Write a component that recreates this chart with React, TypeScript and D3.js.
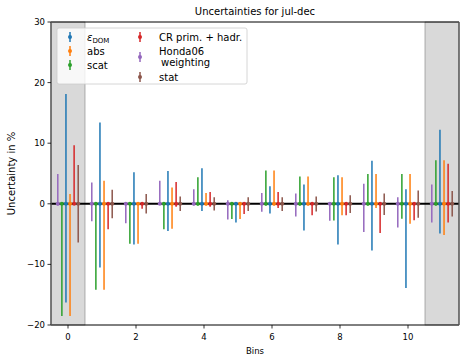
import React from "react";
import * as d3 from "d3";

const bins = [0, 1, 2, 3, 4, 5, 6, 7, 8, 9, 10, 11];
const xTicks = [0, 2, 4, 6, 8, 10];
const yTicks = [-20, -10, 0, 10, 20, 30];
const shadedSpans = [[-0.5, 0.5], [10.5, 11.5]];

const domUp = [18.1, 13.4, 5.2, 5.4, 5.85, 0, 2.9, 3.2, 4.7, 7.1, 2.4, 12.2];
const domLow = [-16.3, -10.5, -6.7, -4.5, -1.2, -3.1, -1.6, -4.4, -6.7, -7.7, -13.9, -4.9];
const absUp = [1.6, 3.8, 0, 2.7, 1.8, 0, 5.5, 4.5, 4.4, 4.9, 4.9, 7.2];
const absLow = [-18.5, -14.2, -6.6, -4.1, -0.3, -2.5, -0.3, -0.3, -1.9, -0.7, -3.3, -5.15];
const scatUp = [0.2, 0, 0, 0.3, 4.4, 0.2, 5.5, 4.5, 4.4, 4.9, 4.9, 7.2];
const scatLow = [-18.5, -14.2, -6.6, -4.2, -0.3, -2.5, -0.3, -0.3, -2.75, -0.3, -2.45, -0.3];
const crUp = [9.65, 0, 0, 3.6, 1.95, 0, 1.95, 0, 0, 0, 0, 6.6];
const crLow = [-0.2, -4.2, -0.8, -0.5, -0.5, -1.7, -0.7, -1.9, -1.9, -4.8, -2.7, -3.1];
const hondaUp = [4.9, 3.5, 0.2, 3.8, 2.4, 0.6, 1.8, 1.7, 0, 3.3, 1.1, 3.2];
const hondaLow = [-0.3, -2.9, -3.2, -0.2, -0.3, -2.6, -1.3, -2.1, -2.8, -4.65, -3.9, -3.1];
const statUp = [6.4, 2.3, 1.6, 1.2, 1.1, 1.1, 1.1, 1.2, 1.4, 1.7, 2.2, 2.1];
const statLow = [-6.4, -2.4, -1.6, -1.2, -1.1, -1.2, -1.2, -1.25, -1.5, -1.85, -2.3, -2.1];

const series = [
  { key: "dom", color: "#1f77b4", offset: -0.06, up: domUp, low: domLow },
  { key: "abs", color: "#ff7f0e", offset: 0.06, up: absUp, low: absLow },
  { key: "scat", color: "#2ca02c", offset: -0.18, up: scatUp, low: scatLow },
  { key: "cr", color: "#d62728", offset: 0.18, up: crUp, low: crLow },
  { key: "honda", color: "#9467bd", offset: -0.3, up: hondaUp, low: hondaLow },
  { key: "stat", color: "#8c564b", offset: 0.3, up: statUp, low: statLow },
];

const W = 467, H = 363;
const left = 51, right = 459, top = 22, bottom = 325;
const FONT = "DejaVu Sans, sans-serif";

export default function App() {
  const x = d3.scaleLinear().domain([-0.5, 11.5]).range([left, right]);
  const y = d3.scaleLinear().domain([-20, 30]).range([bottom, top]);
  const fmt = (v: number) => (v < 0 ? "\u2212" + Math.abs(v) : String(v));

  const legendCol1 = [
    { s: series[0], y: 37 },
    { s: series[1], y: 51 },
    { s: series[2], y: 65 },
  ];
  const legendCol2 = [
    { s: series[3], y: 37 },
    { s: series[4], y: 57 },
    { s: series[5], y: 77 },
  ];

  const handle = (color: string, cx: number, cy: number, k: string) => (
    <g key={k}>
      <line x1={cx} x2={cx} y1={cy - 5} y2={cy + 5} stroke={color} strokeWidth={1.5} />
      <circle cx={cx} cy={cy} r={2} fill={color} />
    </g>
  );

  return (
    <svg width={W} height={H} style={{ position: "absolute", left: 0, top: 0 }} fontFamily={FONT}>
      <rect width={W} height={H} fill="white" />
      {shadedSpans.map((sp, i) => (
        <rect key={i} x={x(sp[0])} y={top} width={x(sp[1]) - x(sp[0])} height={bottom - top} fill="#d9d9d9" stroke="#7f7f7f" strokeWidth={0.6} />
      ))}
      <line x1={left} x2={right} y1={y(0)} y2={y(0)} stroke="black" strokeWidth={2} />
      {series.map((s) =>
        bins.map((b, i) => (
          <line key={s.key + i} x1={x(b + s.offset)} x2={x(b + s.offset)} y1={y(s.low[i])} y2={y(s.up[i])} stroke={s.color} strokeWidth={1.5} />
        ))
      )}
      {series.map((s) =>
        bins.map((b, i) => (
          <circle key={"m" + s.key + i} cx={x(b + s.offset)} cy={y(0)} r={2} fill={s.color} />
        ))
      )}
      {/* spines */}
      <line x1={left} x2={right} y1={top} y2={top} stroke="black" strokeWidth={1} />
      <line x1={left} x2={right} y1={bottom} y2={bottom} stroke="black" strokeWidth={1} />
      <line x1={left} x2={left} y1={top} y2={bottom} stroke="#555" strokeWidth={1.4} />
      <line x1={right} x2={right} y1={top} y2={bottom} stroke="#555" strokeWidth={1.4} />
      {/* ticks */}
      {xTicks.map((t) => (
        <g key={"x" + t}>
          <line x1={x(t)} x2={x(t)} y1={bottom} y2={bottom + 3.5} stroke="black" strokeWidth={0.8} />
          <text x={x(t)} y={340} fontSize={8.5} textAnchor="middle">{fmt(t)}</text>
        </g>
      ))}
      {yTicks.map((t) => (
        <g key={"y" + t}>
          <line x1={left - 3.5} x2={left} y1={y(t)} y2={y(t)} stroke="black" strokeWidth={0.8} />
          <text x={left - 6} y={y(t) + 3} fontSize={8.5} textAnchor="end">{fmt(t)}</text>
        </g>
      ))}
      <text x={(left + right) / 2} y={15} fontSize={10} textAnchor="middle">Uncertainties for jul-dec</text>
      <text x={(left + right) / 2} y={354} fontSize={8.5} textAnchor="middle">Bins</text>
      <text transform={`translate(15,${(top + bottom) / 2}) rotate(-90)`} fontSize={10} textAnchor="middle">Uncertainty in %</text>
      {/* legend */}
      <rect x={57} y={28} width={190} height={56} rx={2} fill="white" fillOpacity={0.8} stroke="#cccccc" strokeWidth={0.8} />
      {legendCol1.map((e) => handle(e.s.color, 70, e.y, "l1" + e.s.key))}
      {legendCol2.map((e) => handle(e.s.color, 140, e.y, "l2" + e.s.key))}
      <text x={87} y={40.5} fontSize={10}>
        <tspan fontStyle="italic">ε</tspan>
        <tspan fontSize={7} dy={2}>DOM</tspan>
      </text>
      <text x={87} y={54.5} fontSize={10}>abs</text>
      <text x={87} y={68.5} fontSize={10}>scat</text>
      <text x={159} y={40.5} fontSize={10}>CR prim. + hadr.</text>
      <text x={159} y={54.5} fontSize={10}>Honda06</text>
      <text x={159} y={65.5} fontSize={10}> <tspan x={161}>weighting</tspan></text>
      <text x={159} y={80.5} fontSize={10}>stat</text>
    </svg>
  );
}
